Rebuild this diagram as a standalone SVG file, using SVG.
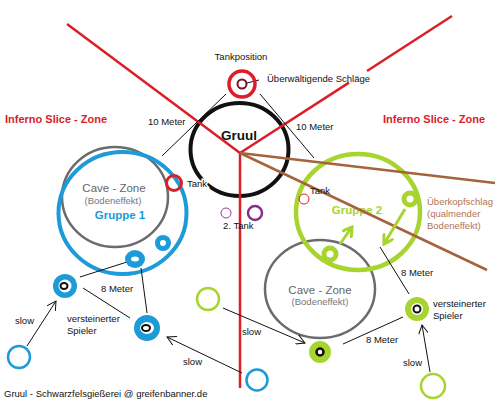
<svg xmlns="http://www.w3.org/2000/svg" width="500" height="402" viewBox="0 0 500 402">
<style>
text{font-family:"Liberation Sans",Arial,sans-serif;font-size:9.5px;fill:#111}
.zone{font-size:11px;font-weight:bold;fill:#d81e28}
.cave{font-size:11.5px;fill:#666}
.bod{font-size:9.5px;fill:#777}
.grp1{font-size:11.5px;font-weight:bold;fill:#1d9ad8}
.grp2{font-size:11.5px;font-weight:bold;fill:#a8d430}
.brn{font-size:9.5px;fill:#b07458}
.halo{stroke:#fff;stroke-width:3;paint-order:stroke}
.red{stroke:#dc1e28;stroke-width:2.5;fill:none}
.brown{stroke:#a5633c;stroke-width:2.5;fill:none}
.thin{stroke:#111;stroke-width:1;fill:none}
.arr{stroke:#111;stroke-width:1;fill:none;marker-end:url(#ah)}
.garr{stroke:#a8d430;stroke-width:3;fill:none;marker-end:url(#gah)}
.bl{fill:#1d9ad8}
.gr{fill:#a8d430}
</style>
<defs>
<marker id="ah" viewBox="0 0 10 10" refX="9" refY="5" markerWidth="10" markerHeight="10" markerUnits="userSpaceOnUse" orient="auto">
<path d="M0,0 L9,5 L0,10" fill="none" stroke="#111" stroke-width="1"/>
</marker>
<marker id="gah" viewBox="0 0 10 10" refX="8" refY="5" markerWidth="12" markerHeight="12" markerUnits="userSpaceOnUse" orient="auto">
<path d="M0,0 L8,5 L0,10" fill="none" stroke="#a8d430" stroke-width="2.5"/>
</marker>
</defs>
<rect width="500" height="402" fill="#fff"/>

<g id="gruul">
<ellipse cx="239.5" cy="149.5" rx="49" ry="46.5" fill="none" stroke="#111" stroke-width="4"/>
<text x="239" y="140" text-anchor="middle" style="font-size:13.5px;font-weight:bold">Gruul</text>
</g>

<g id="cave-zone-1">
<ellipse cx="115" cy="197" rx="53" ry="50" fill="none" stroke="#6b6b6b" stroke-width="2.5"/>
<text class="cave" x="114" y="192" text-anchor="middle">Cave - Zone</text>
<text class="bod" x="113" y="204" text-anchor="middle">(Bodeneffekt)</text>
</g>

<g id="gruppe-1">
<ellipse cx="122.5" cy="213" rx="64" ry="61" fill="none" stroke="#1d9ad8" stroke-width="4"/>
<text class="grp1" x="120" y="219" text-anchor="middle">Gruppe 1</text>
</g>

<g id="cave-zone-2">
<ellipse cx="320" cy="289" rx="55" ry="49" fill="none" stroke="#6b6b6b" stroke-width="2.5"/>
<text class="cave" x="320" y="294" text-anchor="middle">Cave - Zone</text>
<text class="bod" x="320" y="305" text-anchor="middle">(Bodeneffekt)</text>
</g>

<g id="gruppe-2">
<ellipse cx="358" cy="212" rx="62" ry="58" fill="none" stroke="#a8d430" stroke-width="4.5"/>
<text class="grp2" x="357" y="214" text-anchor="middle">Gruppe 2</text>
</g>

<g id="zones">
<text class="zone" x="5" y="123">Inferno Slice - Zone</text>
<text class="zone" x="383" y="123">Inferno Slice - Zone</text>
</g>

<g id="connectors">
<line class="red" x1="67" y1="24" x2="240" y2="153"/>
<line class="red" x1="240" y1="153" x2="349" y2="82.6"/>
<line class="red" x1="367" y1="71" x2="452" y2="16"/>
<line class="red" x1="240" y1="152" x2="240" y2="388"/>
<line class="brown" x1="240" y1="153" x2="495" y2="183"/>
<line class="brown" x1="240" y1="153" x2="487" y2="270"/>
<line class="thin" x1="226" y1="94" x2="162" y2="156"/>
<line class="thin" x1="260" y1="94" x2="314" y2="158"/>
<line class="thin" x1="247" y1="83" x2="259" y2="80"/>
<line class="thin" x1="80" y1="277" x2="127" y2="262"/>
<line class="thin" x1="141" y1="268" x2="147" y2="313"/>
<line class="thin" x1="83" y1="288" x2="130" y2="318"/>
<line class="thin" x1="380" y1="247" x2="409" y2="294"/>
<line class="thin" x1="343" y1="344" x2="403" y2="317"/>
<line class="arr" x1="27" y1="346" x2="56" y2="301"/>
<line class="arr" x1="242" y1="373" x2="167" y2="337"/>
<line class="arr" x1="223" y1="308" x2="305" y2="343"/>
<line class="arr" x1="430" y1="372" x2="422" y2="325"/>
<line class="garr" x1="405" y1="209" x2="384" y2="244"/>
<line class="garr" x1="340" y1="244" x2="352" y2="227"/>
</g>

<g id="tankposition">
<circle cx="242" cy="84" r="13" fill="none" stroke="#dc1e28" stroke-width="3.5"/>
<circle cx="242" cy="84" r="4.5" fill="none" stroke="#7a1420" stroke-width="2"/>
<text x="241" y="60" text-anchor="middle">Tankposition</text>
<text x="267" y="82">Überwältigende Schläge</text>
</g>

<g id="labels">
<text x="148" y="125">10 Meter</text>
<text x="296" y="130">10 Meter</text>
<text x="101" y="292">8 Meter</text>
<text x="401" y="276">8 Meter</text>
<text x="366" y="343">8 Meter</text>
<text x="15" y="324">slow</text>
<text x="183" y="365">slow</text>
<text x="242" y="335">slow</text>
<text x="403" y="366">slow</text>
<text x="4" y="397">Gruul - Schwarzfelsgießerei @ greifenbanner.de</text>
</g>

<g id="tank-1">
<circle cx="174" cy="183" r="7.5" fill="none" stroke="#dc1e28" stroke-width="3"/>
<text class="halo" x="187" y="187">Tank</text>
</g>

<g id="tank-2">
<circle cx="304" cy="199" r="5" fill="none" stroke="#dc1e28" stroke-width="1"/>
<text x="310" y="194">Tank</text>
</g>

<g id="tank-3">
<circle cx="226" cy="213" r="5" fill="none" stroke="#9b3d9b" stroke-width="1"/>
<circle cx="255" cy="213" r="7" fill="none" stroke="#8b2c8b" stroke-width="2.5"/>
<text x="223" y="229">2. Tank</text>
</g>

<g id="ueberkopfschlag">
<text class="brn" x="427" y="205">Überkopfschlag</text>
<text class="brn" x="427" y="217">(qualmender</text>
<text class="brn" x="427" y="229">Bodeneffekt)</text>
</g>

<g id="blue-player-1">
<circle class="bl" cx="163" cy="243" r="8"/>
<circle cx="163" cy="243" r="3" fill="#fff"/>
</g>
<g id="blue-player-2">
<ellipse class="bl" cx="135" cy="259" rx="10" ry="9"/>
<ellipse cx="135" cy="259" rx="4" ry="2.5" fill="#fff"/>
</g>
<g id="blue-petrified-1">
<circle class="bl" cx="65" cy="286" r="12"/>
<circle cx="65" cy="286" r="6.5" fill="#fff"/>
<ellipse cx="64" cy="286" rx="3.5" ry="3" fill="none" stroke="#111" stroke-width="2"/>
<text x="67" y="322">versteinerter</text>
<text x="67" y="334">Spieler</text>
</g>
<g id="blue-petrified-2">
<circle class="bl" cx="147" cy="328" r="13"/>
<ellipse cx="147" cy="328" rx="7" ry="6" fill="#fff"/>
<ellipse cx="146" cy="328" rx="4" ry="3" fill="none" stroke="#111" stroke-width="2"/>
</g>
<g id="blue-slow-1">
<circle cx="19" cy="357" r="11" fill="none" stroke="#1d9ad8" stroke-width="2.5"/>
</g>
<g id="blue-slow-2">
<circle cx="257" cy="380" r="10.5" fill="none" stroke="#1d9ad8" stroke-width="2.5"/>
</g>

<g id="green-slow-1">
<circle cx="208" cy="299" r="11" fill="none" stroke="#a8d430" stroke-width="2.5"/>
</g>
<g id="green-slow-2">
<circle cx="433" cy="386" r="12" fill="none" stroke="#a8d430" stroke-width="2.5"/>
</g>
<g id="green-player-1">
<circle cx="410" cy="199" r="6" fill="#fff" stroke="#a8d430" stroke-width="5"/>
</g>
<g id="green-player-2">
<circle cx="330" cy="254" r="6" fill="#fff" stroke="#a8d430" stroke-width="5"/>
</g>
<g id="green-petrified-1">
<circle class="gr" cx="320" cy="352" r="11"/>
<circle cx="320" cy="352" r="3.5" fill="#fff" stroke="#111" stroke-width="2.5"/>
</g>
<g id="green-petrified-2">
<circle class="gr" cx="417" cy="309" r="12"/>
<circle cx="417" cy="309" r="6" fill="#fff"/>
<circle cx="417" cy="309" r="3.5" fill="none" stroke="#111" stroke-width="2"/>
<text x="433" y="307">versteinerter</text>
<text x="433" y="319">Spieler</text>
</g>
</svg>
